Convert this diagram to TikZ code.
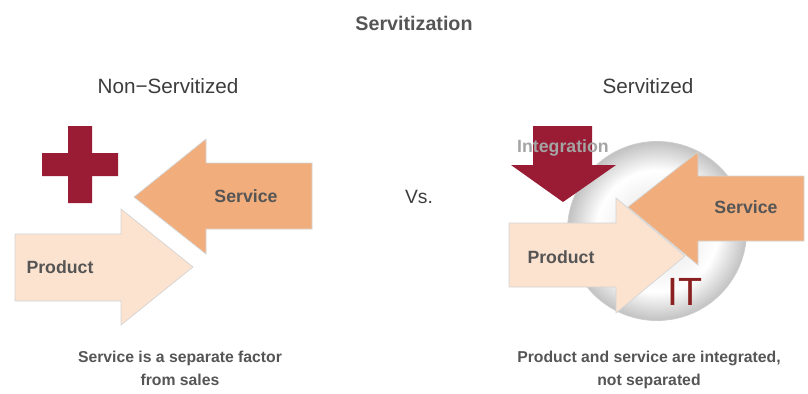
\documentclass[tikz,border=0pt]{standalone}
\usepackage{fontspec}
\setmainfont{Liberation Sans}
\usetikzlibrary{positioning}

\definecolor{crossred}{HTML}{991B34}
\definecolor{itred}{HTML}{8B2020}
\definecolor{servorange}{HTML}{F1AE7C}
\definecolor{prodpeach}{HTML}{FCE3D0}
\definecolor{textgrey}{HTML}{555555}
\definecolor{headgrey}{HTML}{3C3C3C}
\definecolor{integgrey}{HTML}{A4A4A4}

% disc behind the integrated arrows: grey rim, light band, soft centre
\pgfdeclareradialshading{itdisc}{\pgfpoint{0bp}{0bp}}{%
  color(0bp)=(black!10); color(12bp)=(black!4); color(17bp)=(white);
  color(25bp)=(black!24); color(50bp)=(black!24)}

\begin{document}
\begin{tikzpicture}[x=0.025cm, y=-0.025cm,
  shapeline/.style={draw=black!17, line width=0.5pt},
  arrowlabel/.style={font=\fontsize{12.6}{14}\selectfont\bfseries, text=textgrey, text depth=0pt},
  heading/.style={font=\fontsize{14.7}{17}\selectfont, text=headgrey, text depth=0pt},
  caption/.style={font=\fontsize{11.2}{16.3}\selectfont\bfseries, text=textgrey, align=center, anchor=north, inner sep=0pt}]
\useasboundingbox (0,0) rectangle (808,394);

% headings
\node[font=\fontsize{14}{17}\selectfont\bfseries, text=textgrey, text depth=0pt] (title) at (414,23) {Servitization};
\node[heading] (nonserv) at (168,86) {Non−Servitized};
\node[heading] (serv) at (648,86) {Servitized};
\node[heading, font=\fontsize{13.7}{16}\selectfont] (vs) at (419,197) {Vs.};

% left: product and service apart
\fill[crossred] (68,126) -- (92,126) -- (92,153) -- (118,153) -- (118,176) -- (92,176)
  -- (92,203) -- (68,203) -- (68,176) -- (42,176) -- (42,153) -- (68,153) -- cycle;
\filldraw[shapeline, fill=servorange] (134,197) -- (206,139) -- (206,163) -- (312,163)
  -- (312,229) -- (206,229) -- (206,254) -- cycle;
\filldraw[shapeline, fill=prodpeach] (15,234) -- (121,234) -- (121,209) -- (193,267)
  -- (121,325) -- (121,301) -- (15,301) -- cycle;
\node[arrowlabel] (lserv) at (246,196) {Service};
\node[arrowlabel] (lprod) at (60,267) {Product};

% right: integrated through IT
\shade[shading=itdisc] (657,231) circle (89.5);
\draw[black!20, line width=0.6pt] (657,231) circle (89.5);
\fill[crossred] (533,126) -- (592,126) -- (592,165) -- (616,165) -- (563,202)
  -- (511,165) -- (533,165) -- cycle;
\node[arrowlabel, text=integgrey] (integ) at (563,146) {Integration};
\filldraw[shapeline, fill=servorange] (628,207) -- (698,152) -- (698,176) -- (804,176)
  -- (804,241) -- (698,241) -- (698,265) -- cycle;
\filldraw[shapeline, fill=prodpeach] (509,223) -- (616,223) -- (616,198) -- (685,256)
  -- (616,313) -- (616,287) -- (509,287) -- cycle;
\node[arrowlabel] (rserv) at (746,207) {Service};
\node[arrowlabel] (rprod) at (561,257) {Product};
\node[font=\fontsize{28}{30}\selectfont, text=itred, text depth=0pt] (it) at (685,292) {IT};

% captions
\node[caption] (lcap) at (180,351) {Service is a separate factor\\from sales};
\node[caption] (rcap) at (649,351) {Product and service are integrated,\\not separated};
\end{tikzpicture}
\end{document}
